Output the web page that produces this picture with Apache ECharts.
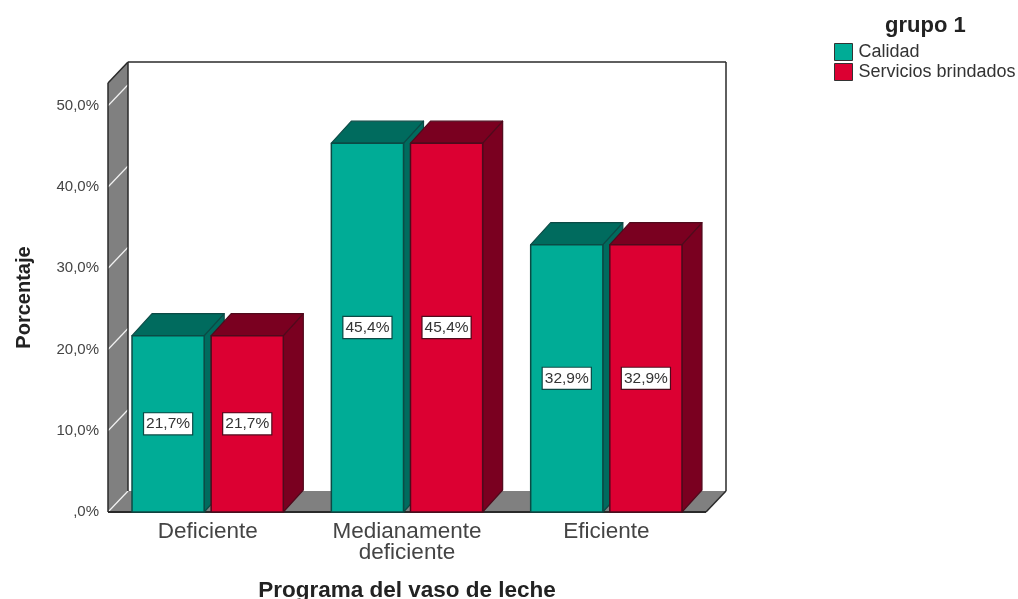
<!DOCTYPE html>
<html><head><meta charset="utf-8">
<style>html,body{margin:0;padding:0;background:#fff}#c{width:1018px;height:599px}</style>
<script src="https://cdn.jsdelivr.net/npm/echarts@6/dist/echarts.min.js"></script>
</head><body><div id="c"></div>
<script>
const categories = ['Deficiente', 'Medianamente\ndeficiente', 'Eficiente'];
const calidad = [21.7, 45.4, 32.9];
const servicios = [21.7, 45.4, 32.9];
const yTicks = [0, 10, 20, 30, 40, 50];
const DX = 20, DY = 21;
const BAR_DX = 20, BAR_DY = 22;
const FONT = '"Liberation Sans", Arial, sans-serif';

function pct(v, zero) {
  const s = v.toFixed(1).replace('.', ',');
  return (zero && v === 0 ? ',0' : s) + '%';
}
function face(points, fill, stroke, lw) {
  return { type: 'polygon', shape: { points }, style: { fill, stroke, lineWidth: lw, lineJoin: 'round' } };
}
function barSeries(name, values, offsetSign, colors) {
  return {
    type: 'custom', name, z: 3, silent: true,
    itemStyle: { color: colors.front },
    data: values.map((v, i) => [i, v]),
    encode: { x: 0, y: 1 },
    renderItem(params, api) {
      const band = api.size([1, 0])[0];
      const w = band * 0.362, gap = band * 0.035;
      const c = api.coord([api.value(0), api.value(1)]);
      const base = api.coord([api.value(0), 0]);
      const left = offsetSign < 0 ? c[0] - gap / 2 - w : c[0] + gap / 2;
      const right = left + w, top = c[1], bot = base[1];
      const mid = (top + bot) / 2;
      return {
        type: 'group',
        children: [
          face([[right, bot], [right + BAR_DX, bot - BAR_DY], [right + BAR_DX, top - BAR_DY], [right, top]], colors.side, colors.line, 1.2),
          face([[left, top], [left + BAR_DX, top - BAR_DY], [right + BAR_DX, top - BAR_DY], [right, top]], colors.top, colors.line, 1.2),
          face([[left, top], [right, top], [right, bot], [left, bot]], colors.front, colors.line, 1.5),
          {
            type: 'text', z2: 10,
            style: {
              x: (left + right) / 2, y: mid, text: pct(api.value(1)),
              align: 'center', verticalAlign: 'middle', font: '15.5px ' + FONT, fill: '#333',
              backgroundColor: '#fff', borderColor: colors.line, borderWidth: 1.2, padding: [3, 2, 2, 2]
            }
          }
        ]
      };
    }
  };
}
const wallSeries = {
  type: 'custom', name: 'walls', z: 1, silent: true,
  data: [[0, 0]], encode: { x: 0, y: 1 },
  renderItem(params, api) {
    const s = params.coordSys;
    const L = s.x, R = s.x + s.width, T = s.y, B = s.y + s.height;
    const children = [
      face([[L, B], [L + DX, B - DY], [R + DX, B - DY], [R, B]], '#808080', 'none', 0),
      face([[L, T], [L + DX, T - DY], [L + DX, B - DY], [L, B]], '#808080', 'none', 0)
    ];
    yTicks.forEach(t => {
      const y = api.coord([0, t])[1];
      children.push({ type: 'line', shape: { x1: L, y1: y, x2: L + DX, y2: y - DY }, style: { stroke: '#f2f2f2', lineWidth: 1.2 } });
    });
    const edge = (x1, y1, x2, y2, lw) => children.push({ type: 'line', shape: { x1, y1, x2, y2 }, style: { stroke: '#2a2a2a', lineWidth: lw } });
    edge(L, T, L + DX, T - DY, 1.5);
    edge(L + DX, T - DY, R + DX, T - DY, 1.5);
    edge(R + DX, T - DY, R + DX, B - DY, 1.5);
    edge(R + DX, B - DY, R, B, 1.5);
    edge(L + DX, T - DY, L + DX, B - DY, 1.5);
    edge(L, T, L, B, 1.5);
    edge(L, B, R, B, 1.8);
    return { type: 'group', children };
  }
};

const chart = echarts.init(document.getElementById('c'), null, { renderer: 'canvas' });
chart.setOption({
  animation: false,
  backgroundColor: '#fff',
  textStyle: { fontFamily: FONT },
  title: {
    text: 'grupo 1', left: 885, top: 15, padding: 0,
    textStyle: { fontFamily: FONT, fontSize: 22, fontWeight: 'bold', color: '#222' }
  },
  legend: {
    left: 834, top: 43, orient: 'vertical', icon: 'rect', itemWidth: 18, itemHeight: 17, itemGap: 2, padding: 0,
    data: ['Calidad', 'Servicios brindados'],
    itemStyle: { borderColor: '#333', borderWidth: 1 },
    textStyle: { fontFamily: FONT, fontSize: 18, color: '#333', padding: [0, 0, 0, 1] }
  },
  grid: { left: 108, top: 83, width: 598, height: 429, outerBoundsMode: 'none' },
  xAxis: {
    type: 'category', data: categories,
    name: 'Programa del vaso de leche', nameLocation: 'middle', nameGap: 67,
    nameTextStyle: { fontFamily: FONT, fontSize: 22.5, fontWeight: 'bold', color: '#222' },
    axisLine: { show: false }, axisTick: { show: false },
    axisLabel: { fontFamily: FONT, fontSize: 22.5, color: '#444', margin: 9, lineHeight: 21, interval: 0 }
  },
  yAxis: {
    type: 'value', min: 0, max: 52.8, interval: 10,
    name: 'Porcentaje', nameLocation: 'middle', nameGap: 74,
    nameTextStyle: { fontFamily: FONT, fontSize: 20, fontWeight: 'bold', color: '#222' },
    axisLine: { show: false }, axisTick: { show: false }, splitLine: { show: false },
    axisLabel: {
      fontFamily: FONT, fontSize: 15, color: '#444', margin: 9, padding: [3, 0, 0, 0],
      formatter: v => yTicks.includes(v) ? pct(v, true) : ''
    }
  },
  series: [
    wallSeries,
    barSeries('Calidad', calidad, -1, { front: '#00AC96', top: '#006B5E', side: '#006B5E', line: '#0B4A45' }),
    barSeries('Servicios brindados', servicios, 1, { front: '#DC0032', top: '#7A0020', side: '#7A0020', line: '#4F0A1C' })
  ]
});
</script></body></html>
